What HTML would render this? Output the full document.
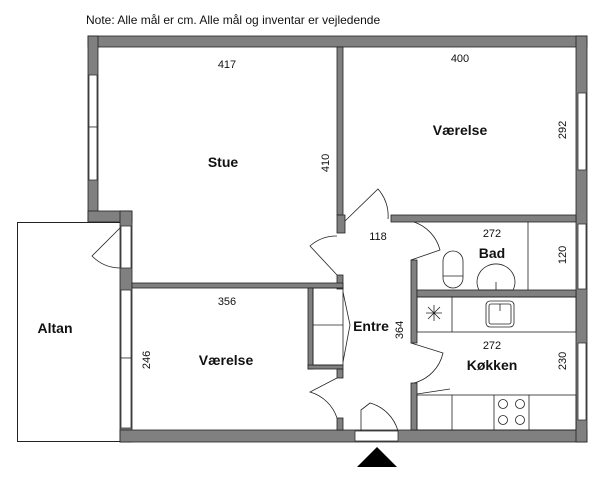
<!DOCTYPE html>
<html><head><meta charset="utf-8"><style>
html,body{margin:0;padding:0;background:#fff;}
svg{display:block;font-family:"Liberation Sans",sans-serif;}
</style></head><body>
<svg width="600" height="479" viewBox="0 0 600 479" xmlns="http://www.w3.org/2000/svg">
<text x="86" y="24" font-size="12" fill="#111">Note: Alle mål er cm. Alle mål og inventar er vejledende</text>
<!-- balcony -->
<rect x="17.5" y="222.5" width="103" height="219" fill="#fff" stroke="#222" stroke-width="1"/>
<g fill="#808080" stroke="#222" stroke-width="0.8">
<!-- outer walls -->
<rect x="88" y="36" width="499" height="11"/>
<rect x="88" y="36" width="10" height="186"/>
<rect x="88" y="211" width="44" height="11"/>
<rect x="120" y="211" width="12" height="231"/>
<rect x="120" y="430" width="467" height="12"/>
<rect x="576" y="36" width="11" height="406"/>
<!-- interior walls -->
<rect x="337" y="47" width="6" height="168"/>
<rect x="337" y="215" width="8" height="18"/>
<rect x="337" y="275" width="6" height="14"/>
<rect x="132" y="283" width="211" height="5"/>
<rect x="391" y="215" width="185" height="7"/>
<rect x="411" y="260" width="6" height="83"/>
<rect x="411" y="383" width="6" height="47"/>
<rect x="417" y="290" width="159" height="7"/>
<rect x="308" y="288" width="5" height="81"/>
<rect x="308" y="365" width="35" height="4"/>
<rect x="337" y="369" width="6" height="9"/>
<rect x="337" y="418" width="6" height="12"/>
</g>
<!-- windows -->
<g fill="#fff" stroke="#333" stroke-width="0.8">
<rect x="89" y="75" width="8" height="52"/><rect x="89" y="127" width="8" height="53"/>
<rect x="121" y="290" width="10" height="68"/><rect x="121" y="358" width="10" height="70"/>
<rect x="578" y="93" width="8" height="77"/>
<rect x="578" y="224" width="8" height="65"/>
<rect x="578" y="343" width="8" height="77"/>
<rect x="121" y="226" width="10" height="42"/>
<rect x="355" y="431" width="43" height="10"/>
</g>
<!-- doors -->
<g fill="none" stroke="#222" stroke-width="0.8">
<path d="M120 228 L92 256 A40 40 0 0 0 120 268"/>
<path d="M337 275 L310 246 A40 40 0 0 1 337 236"/>
<path d="M345 221 L378 189 A40 40 0 0 1 388 219"/>
<path d="M411 260 L440 250 A40 40 0 0 0 414 222"/>
<path d="M411 343 L443 353 A40 40 0 0 1 414 383"/>
<path d="M337 378 L310 392 A40 40 0 0 1 337 418"/>
<path d="M361 431 L361 410 L370 403 A40 40 0 0 1 398 431"/>
<path d="M343 292 L350 325 L343 362"/>
<line x1="313" y1="325" x2="343" y2="325"/>
<rect x="313" y="288" width="30" height="77"/>
<!-- bad -->
<line x1="528" y1="222" x2="528" y2="290"/>
<rect x="443" y="251" width="20" height="37" rx="10"/>
<line x1="443" y1="276" x2="463" y2="276"/>
<path d="M479 290 A19 18 0 1 1 513 290 Z"/>
<line x1="496" y1="282" x2="496" y2="290"/>
<!-- kitchen -->
<rect x="417" y="297" width="159" height="35"/>
<line x1="452" y1="297" x2="452" y2="332"/>
<rect x="486" y="301" width="28" height="26" rx="4"/>
<rect x="489" y="304" width="22" height="20" rx="2"/>
<line x1="500" y1="304" x2="500" y2="311"/>
<path d="M426 313 L442 313 M434 305 L434 321 M428 307 L440 319 M440 307 L428 319"/>
<rect x="417" y="395" width="159" height="35"/>
<line x1="452" y1="395" x2="452" y2="430"/>
<line x1="494" y1="395" x2="494" y2="430"/>
<line x1="529" y1="395" x2="529" y2="430"/>
<circle cx="503" cy="404" r="4.5"/><circle cx="520" cy="404" r="4.5"/>
<circle cx="503" cy="420" r="4.5"/><circle cx="520" cy="420" r="4.5"/>
<line x1="417" y1="394" x2="450" y2="389"/>
</g>
<polygon points="357,467 377,447 397,467" fill="#000"/>
<!-- labels -->
<g font-size="11" fill="#111" text-anchor="middle">
<text x="227" y="68">417</text>
<text x="460" y="62">400</text>
<text x="378" y="240">118</text>
<text x="492" y="237">272</text>
<text x="227" y="305">356</text>
<text x="492" y="349">272</text>
<text transform="translate(329,163) rotate(-90)">410</text>
<text transform="translate(566,130) rotate(-90)">292</text>
<text transform="translate(566,255) rotate(-90)">120</text>
<text transform="translate(403,330) rotate(-90)">364</text>
<text transform="translate(150,360) rotate(-90)">246</text>
<text transform="translate(566,361) rotate(-90)">230</text>
</g>
<g font-size="14" font-weight="bold" fill="#111" text-anchor="middle">
<text x="223" y="167">Stue</text>
<text x="460" y="135">Værelse</text>
<text x="492" y="258">Bad</text>
<text x="55" y="333">Altan</text>
<text x="371" y="331">Entre</text>
<text x="226" y="365">Værelse</text>
<text x="492" y="370">Køkken</text>
</g>
</svg>
</body></html>
